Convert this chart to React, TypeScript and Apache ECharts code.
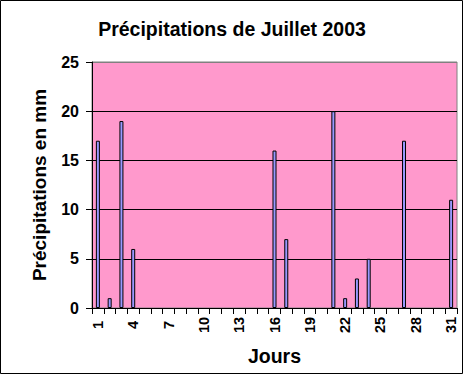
import React, { useEffect, useRef } from "react";
import * as echarts from "echarts";

const titleText = "Précipitations de Juillet 2003";
const yAxisName = "Précipitations en mm";
const xAxisName = "Jours";
const days = [
  "1", "2", "3", "4", "5", "6", "7", "8", "9", "10",
  "11", "12", "13", "14", "15", "16", "17", "18", "19", "20",
  "21", "22", "23", "24", "25", "26", "27", "28", "29", "30", "31",
];
const rain = [
  17, 1, 19, 6, 0, 0, 0, 0, 0, 0,
  0, 0, 0, 0, 0, 16, 7, 0, 0, 0,
  20, 1, 3, 5, 0, 0, 17, 0, 0, 0, 11,
];
const yMin = 0;
const yMax = 25;
const yStep = 5;

const FONT = "'Liberation Sans', Arial, sans-serif";

export default function App() {
  const ref = useRef<HTMLDivElement>(null);
  useEffect(() => {
    document.body.style.margin = "0";
    if (!ref.current) return;
    const chart = echarts.init(ref.current, undefined, { renderer: "svg" });
    chart.setOption({
      animation: false,
      backgroundColor: "#ffffff",
      textStyle: { fontFamily: FONT },
      title: {
        text: titleText,
        left: "center",
        top: 19,
        padding: 0,
        textStyle: { fontFamily: FONT, fontSize: 19.5, fontWeight: "bold", color: "#000" },
      },
      graphic: [
        {
          type: "rect",
          shape: { x: 0.5, y: 0.5, width: 462, height: 373 },
          style: { fill: "none", stroke: "#000", lineWidth: 1 },
          silent: true,
          z: 100,
        },
      ],
      grid: {
        left: 92,
        right: 7,
        top: 62,
        bottom: 68,
        containLabel: false,
        outerBoundsMode: "none",
        show: true,
        backgroundColor: "#FF99CC",
        borderColor: "#808080",
        borderWidth: 1,
      },
      xAxis: {
        type: "category",
        data: days,
        name: xAxisName,
        nameLocation: "middle",
        nameGap: 38,
        nameTextStyle: { fontFamily: FONT, fontSize: 19.5, fontWeight: "bold", color: "#000" },
        axisLine: { show: true, lineStyle: { color: "#000", width: 1 } },
        axisTick: { show: true, interval: 0, length: 6, lineStyle: { color: "#000" } },
        axisLabel: {
          interval: 2,
          rotate: 90,
          align: "center",
          verticalAlign: "middle",
          margin: 17,
          fontFamily: FONT,
          fontSize: 14.5,
          fontWeight: "bold",
          color: "#000",
        },
        splitLine: { show: false },
      },
      yAxis: {
        type: "value",
        min: yMin,
        max: yMax,
        interval: yStep,
        name: yAxisName,
        nameLocation: "middle",
        nameGap: 43,
        nameTextStyle: { fontFamily: FONT, fontSize: 19, fontWeight: "bold", color: "#000" },
        axisLine: { show: true, lineStyle: { color: "#000", width: 1 } },
        axisTick: { show: true, length: 6, lineStyle: { color: "#000" } },
        axisLabel: {
          margin: 13,
          fontFamily: FONT,
          fontSize: 16,
          fontWeight: "bold",
          color: "#000",
        },
        splitLine: {
          show: true,
          lineStyle: {
            color: ["#000", "#000", "#000", "#000", "#000", "#808080"],
            width: 1,
          },
        },
      },
      series: [
        {
          type: "bar",
          data: rain.map((v) => (v === 0 ? "-" : v)),
          barWidth: 4,
          itemStyle: { color: "#9999FF", borderColor: "#000", borderWidth: 1 },
        },
      ],
    });
    return () => chart.dispose();
  }, []);
  return <div ref={ref} style={{ width: 464, height: 376 }} />;
}
